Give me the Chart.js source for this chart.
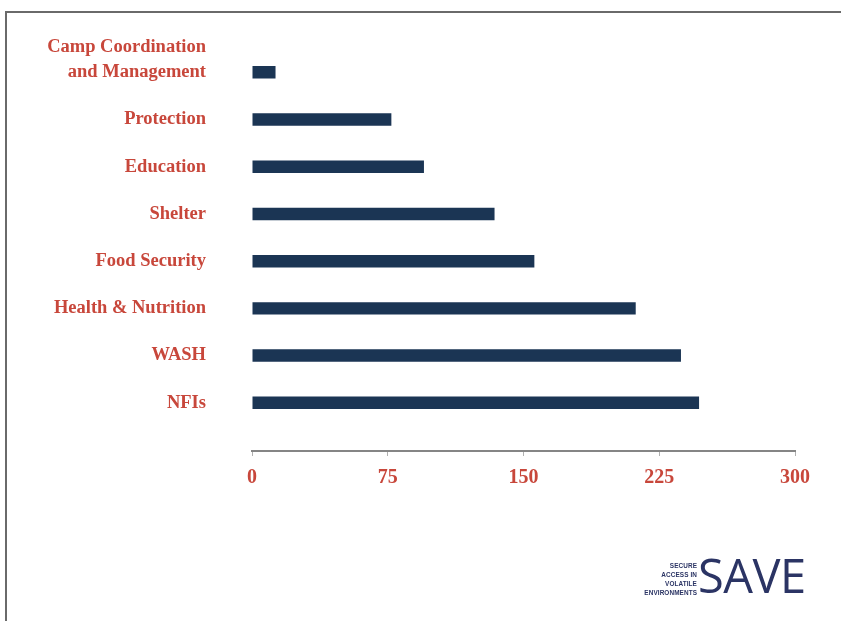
<!DOCTYPE html>
<html>
<head>
<meta charset="utf-8">
<script src="https://cdn.jsdelivr.net/npm/chart.js@4.4.1/dist/chart.umd.min.js"></script>
<style>
  html, body { margin: 0; padding: 0; background: #ffffff; }
  #wrap { position: relative; width: 841px; height: 621px; overflow: hidden; background: #fff; }
  #frame { position: absolute; left: 5px; top: 11px; width: 850px; height: 620px;
           border-top: 2px solid #6a6a6a; border-left: 2px solid #6a6a6a; box-sizing: border-box; }
  #chart { position: absolute; left: 0; top: 0; }
  #logoSmall { position: absolute; right: 144px; top: 560.5px; text-align: right;
               font: 700 6.4px/9px "Liberation Sans", Arial, sans-serif; color: #2b3464; letter-spacing: 0.1px; }
  #logoBig { position: absolute; left: 698px; top: 552px;
             font: 400 47px/47px "Open Sans", sans-serif; color: #2b3464; letter-spacing: -0.5px; }
</style>
</head>
<body>
<div id="wrap">
  <div id="frame"></div>
  <canvas id="chart" width="841" height="621"></canvas>
  <div id="logoSmall">SECURE<br>ACCESS IN<br>VOLATILE<br>ENVIRONMENTS</div>
  <div id="logoBig">SAVE</div>
</div>
<script>
// ---- data ----
const categories = [
  "Camp Coordination\nand Management",
  "Protection",
  "Education",
  "Shelter",
  "Food Security",
  "Health & Nutrition",
  "WASH",
  "NFIs"
];
const values = [13, 77, 95, 134, 156, 212, 237, 247];
const xTickValues = [0, 75, 150, 225, 300];

// ---- styling ----
const RED = "#c8473b";
const NAVY = "#1b3554";
const labelFont = { family: "'Liberation Serif', 'DejaVu Serif', serif", size: 18.5, weight: "bold", lineHeight: 1.35 };

new Chart(document.getElementById("chart"), {
  type: "bar",
  data: {
    labels: categories,
    datasets: [{
      data: values,
      backgroundColor: NAVY,
      borderWidth: 0,
      categoryPercentage: 1,
      barPercentage: 0.264
    }]
  },
  options: {
    indexAxis: "y",
    responsive: false,
    animation: false,
    events: [],
    layout: { padding: { left: 0, right: 46, top: 48.7, bottom: 194.6 } },
    plugins: { legend: { display: false }, tooltip: { enabled: false }, title: { display: false } },
    scales: {
      x: {
        type: "linear",
        position: { y: 8.03 },
        min: 0,
        max: 300,
        afterBuildTicks: (s) => { s.ticks = xTickValues.map(v => ({ value: v })); },
        afterFit: (s) => { s.paddingLeft = 0; s.paddingRight = 0; },
        grid: { drawOnChartArea: false, drawTicks: true, tickLength: 4, color: "#b0b0b0", lineWidth: 1 },
        border: { display: true, color: "#858585", width: 2 },
        ticks: { color: RED, font: { family: labelFont.family, size: 20, weight: "bold", lineHeight: 1.2 }, padding: 10, maxRotation: 0 }
      },
      y: {
        type: "category",
        position: "left",
        offset: true,
        afterFit: (s) => { s.width = 252; s.paddingTop = 0; s.paddingBottom = 0; },
        grid: { display: false, drawTicks: false },
        border: { display: false },
        ticks: {
          color: RED,
          font: labelFont,
          padding: 46,
          autoSkip: false,
          callback: function (value) {
            const lines = this.getLabelForValue(value).split("\n");
            // keep the last line of a wrapped label level with its bar
            return lines.length > 1 ? lines.concat(new Array(lines.length - 1).fill("")) : lines[0];
          }
        }
      }
    }
  }
});
</script>
</body>
</html>
